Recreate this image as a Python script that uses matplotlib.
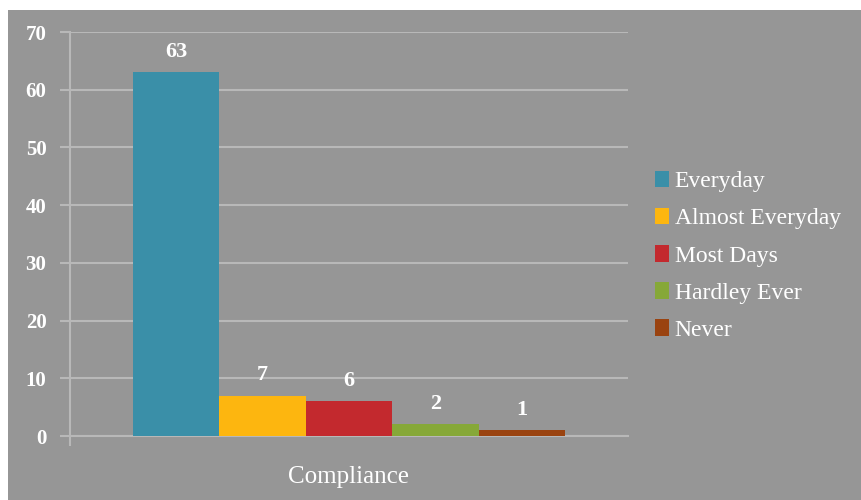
import numpy as np
import matplotlib.pyplot as plt
from matplotlib.patches import Rectangle

# Survey responses for the compliance question
categories = ['Everyday', 'Almost Everyday', 'Most Days', 'Hardley Ever', 'Never']
counts = [63, 7, 6, 2, 1]
colors = ['#3A8FA8', '#FDB60F', '#C3292E', '#86A838', '#9A4310']
group_label = 'Compliance'

plt.rcParams['font.family'] = ['Liberation Serif', 'DejaVu Serif']

fig = plt.figure(figsize=(8.62, 5.0), dpi=100)
fig.patch.set_facecolor('white')
# grey chart area below a thin white strip
fig.add_artist(Rectangle((8 / 862, 0), 1, 1 - 10 / 500, transform=fig.transFigure,
                         facecolor='#969696', edgecolor='none', zorder=0))

ax = fig.add_axes([70 / 862, 64 / 500, 558 / 862, 404 / 500])
ax.set_facecolor('none')

width = 0.155
offsets = (np.arange(len(counts)) - (len(counts) - 1) / 2) * width
for off, val, col, name in zip(offsets, counts, colors, categories):
    ax.bar(off, val, width=width, color=col, label=name, zorder=3)
    ax.text(off, val + 1.8, str(val), ha='center', va='bottom',
            color='white', fontsize=16, fontweight='bold')

ax.set_xlim(-0.5, 0.5)
ax.set_ylim(0, 70)
ax.set_yticks(range(0, 71, 10))
ax.yaxis.grid(True, color='#b8b8b8', linewidth=1.5, zorder=0)
ax.set_axisbelow(True)
ax.tick_params(axis='y', colors='#b8b8b8', labelcolor='white', labelsize=15,
               length=7, width=1.5, pad=10)
for lbl in ax.get_yticklabels():
    lbl.set_fontweight('bold')
ax.set_xticks([-0.5])
ax.set_xticklabels([''])
ax.tick_params(axis='x', colors='#b8b8b8', length=7, width=1.5)
for side in ['top', 'right']:
    ax.spines[side].set_visible(False)
for side in ['left', 'bottom']:
    ax.spines[side].set_color('#b8b8b8')
    ax.spines[side].set_linewidth(1.5)

ax.text(0, -0.075, group_label, transform=ax.get_xaxis_transform(), ha='center',
        va='top', color='white', fontsize=18)

leg = ax.legend(loc='center left', bbox_to_anchor=(1.018, 0.446), frameon=False,
                prop={'size': 17}, labelcolor='white', handlelength=0.6,
                handleheight=0.7, handletextpad=0.25, labelspacing=0.66,
                borderpad=0.2)

fig.savefig('out.png', dpi=100, facecolor=fig.get_facecolor())
